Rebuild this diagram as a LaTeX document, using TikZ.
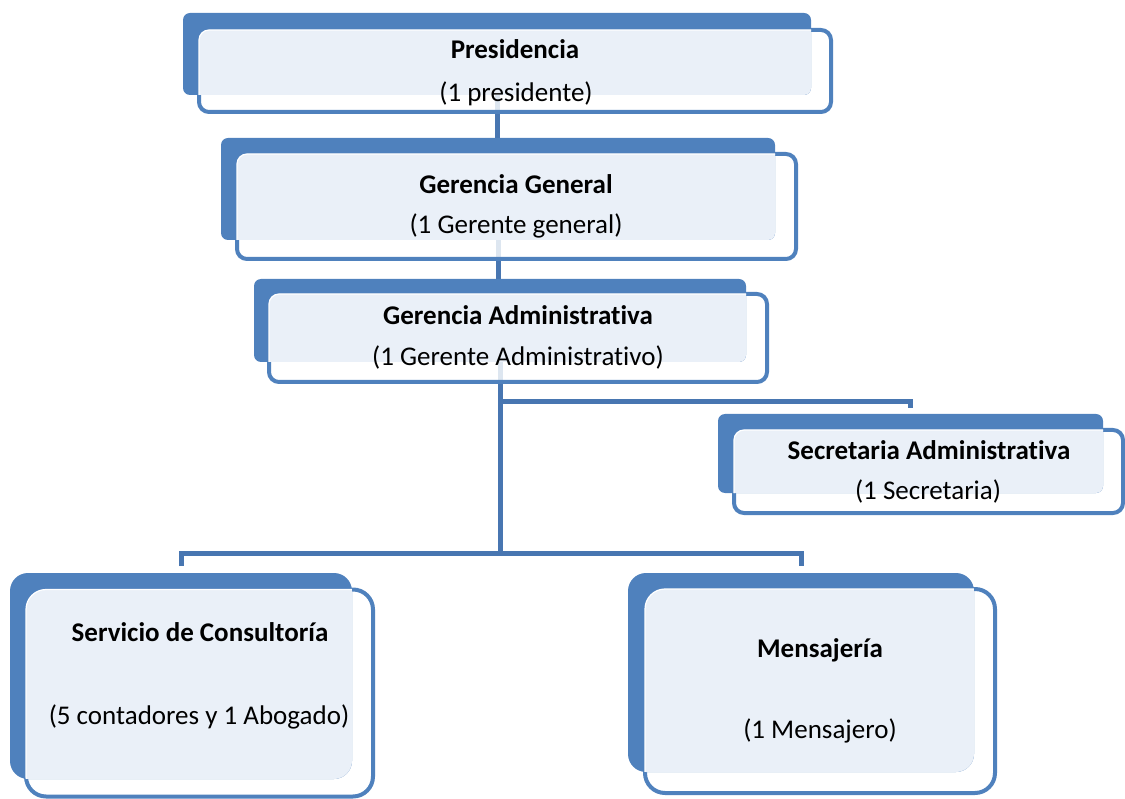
\documentclass[tikz,border=0pt]{standalone}
\usepackage{fontspec}
\setmainfont{Carlito}[Ligatures={NoCommon}]
\usetikzlibrary{calc}
\definecolor{boxblue}{HTML}{4F81BD}
\definecolor{linkblue}{HTML}{4876B1}
\definecolor{paleblue}{HTML}{EAF0F8}
\pgfdeclarelayer{links}
\pgfsetlayers{links,main}
% one unit: a blue card behind a white card, the overlap tinted pale blue
% #1 name, #2 back centre, #3 back width, #4 back height, #5 back radius,
% #6 front centre, #7 front width, #8 front height, #9 front radius
\newcommand\orgunit[9]{%
  \node[frontbox, minimum width=#7, minimum height=#8, rounded corners=#9] (#1-f) at (#6) {};
  \node[backbox, minimum width=#3, minimum height=#4, rounded corners=#5] (#1-b) at (#2) {};
  \begin{scope}
    \clip[rounded corners=#5] (#1-b.south west) rectangle (#1-b.north east);
    \filldraw[fill=paleblue, draw=white, line width=1.2, rounded corners=#9]
      (#1-f.south west) rectangle (#1-f.north east);
  \end{scope}}
\begin{document}
\begin{tikzpicture}[x=1pt, y=-1pt,
  frontbox/.style={rectangle, draw=boxblue, line width=4, fill=white, fill opacity=0.82, draw opacity=1, outer sep=0pt, inner sep=0pt},
  backbox/.style={rectangle, fill=boxblue, outer sep=0pt, inner sep=0pt},
  link/.style={draw=linkblue, line width=5, line join=miter},
  lbl/.style={anchor=base, inner sep=0pt, text=black, font=\fontsize{27}{32}\selectfont},
  head/.style={lbl, font=\fontsize{27}{32}\selectfont\bfseries}]
\useasboundingbox (0,0) rectangle (1125,799);

\orgunit{pres}{497,54}{628}{82}{7}{515,71}{632}{82}{10}
\orgunit{gg}{498,189}{554}{102}{7}{516.5,206.5}{559}{105}{10}
\orgunit{adm}{500,320.5}{492}{83}{7}{518,338}{498}{88}{10}
\orgunit{sec}{910.5,453.5}{385}{79}{7}{928.5,471.5}{389}{83}{10}
\orgunit{ser}{181,676}{342}{206}{18}{199.5,693}{347}{207}{20}
\orgunit{men}{801,672.5}{346}{199}{18}{820,691}{350}{204}{20}

% labels
\node[head] (pres-t1) at (515,59) {Presidencia};
\node[lbl]  (pres-t2) at (516,102) {(1 presidente)};
\node[head] (gg-t1) at (516,194) {Gerencia General};
\node[lbl]  (gg-t2) at (516,234) {(1 Gerente general)};
\node[head] (adm-t1) at (518,325) {Gerencia Administrativa};
\node[lbl]  (adm-t2) at (518,366) {(1 Gerente Administrativo)};
\node[head] (sec-t1) at (929,460) {Secretaria Administrativa};
\node[lbl]  (sec-t2) at (928,500) {(1 Secretaria)};
\node[head] (ser-t1) at (200,641) {Servicio de Consultoría};
\node[lbl]  (ser-t2) at (199,724) {(5 contadores y 1 Abogado)};
\node[head] (men-t1) at (820,657) {Mensajería};
\node[lbl]  (men-t2) at (820,738) {(1 Mensajero)};

% connectors, kept behind the cards
\coordinate (j1) at ($(adm-b.south)+(0,40)$);
\coordinate (j2) at ($(adm-b.south)+(0,191)$);
\coordinate (sec-in) at ($(sec-b.north)+(0,-6)$);
\coordinate (ser-in) at ($(ser-b.north)+(0,-7)$);
\coordinate (men-in) at ($(men-b.north)+(0,-7)$);
\begin{pgfonlayer}{links}
  \draw[link] (pres-b.south) -- (pres-b.south |- gg-b.north);
  \draw[link] (gg-b.south) -- (gg-b.south |- adm-b.north);
  \draw[link] (adm-b.south) -- (j2);
  \draw[link] (j1) -- (sec-in |- j1) -- (sec-in);
  \draw[link] (ser-in) -- (ser-in |- j2) -- (men-in |- j2) -- (men-in);
\end{pgfonlayer}
\end{tikzpicture}
\end{document}
